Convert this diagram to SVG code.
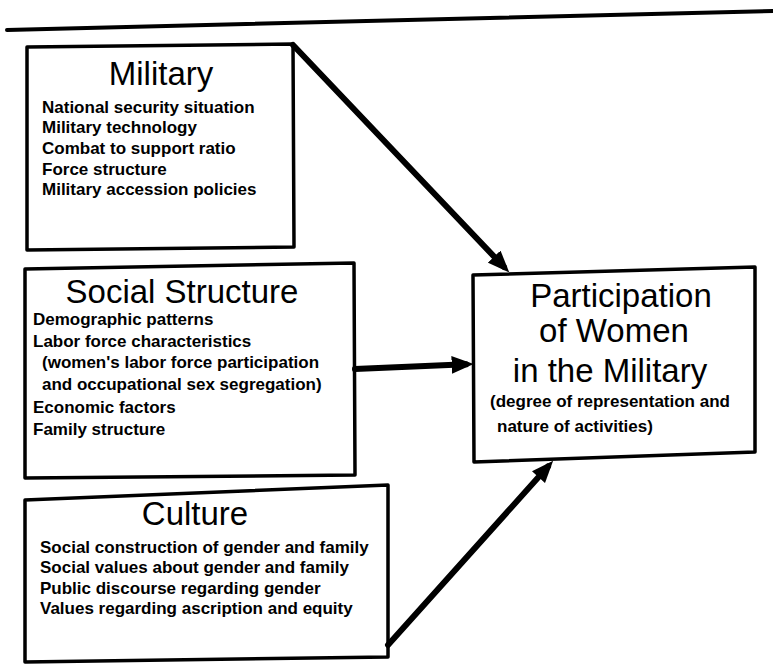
<svg xmlns="http://www.w3.org/2000/svg" width="773" height="671" viewBox="0 0 773 671">
<defs>
<style>
.box{fill:#fff;stroke:#000;stroke-width:3.5;stroke-linejoin:round}
.title{font-family:"Liberation Sans",Arial,sans-serif;font-size:33px;fill:#000}
.item{font-family:"Liberation Sans",Arial,sans-serif;font-size:17px;font-weight:bold;fill:#000}
.conn{stroke:#000;stroke-width:6;fill:none;stroke-linecap:round}
</style>
<marker id="ah" markerUnits="userSpaceOnUse" markerWidth="22" markerHeight="18" viewBox="0 0 20 16" refX="13" refY="8" orient="auto">
<path d="M0,0 L20,8 L0,16 z" fill="#000"/>
</marker>
</defs>
<rect width="773" height="671" fill="#fff"/>
<line x1="7" y1="30" x2="773" y2="11" stroke="#000" stroke-width="4" stroke-linecap="round"/>

<g id="military">
<polygon class="box" points="27,47 293,44 294,247 27,250"/>
<text class="title" x="161" y="85" text-anchor="middle">Military</text>
<text class="item" x="42" y="113">National security situation</text>
<text class="item" x="42" y="133">Military technology</text>
<text class="item" x="42" y="154">Combat to support ratio</text>
<text class="item" x="42" y="175">Force structure</text>
<text class="item" x="42" y="195">Military accession policies</text>
</g>

<g id="social">
<polygon class="box" points="25,269 354,263 355,475 25,478"/>
<text class="title" x="182" y="303" text-anchor="middle">Social Structure</text>
<text class="item" x="33" y="325">Demographic patterns</text>
<text class="item" x="33" y="347">Labor force characteristics</text>
<text class="item" x="42" y="368">(women's labor force participation</text>
<text class="item" x="42" y="390">and occupational sex segregation)</text>
<text class="item" x="33" y="413">Economic factors</text>
<text class="item" x="33" y="435">Family structure</text>
</g>

<g id="culture">
<polygon class="box" points="25,500 388,485 388,657 25,662"/>
<text class="title" x="195" y="525" text-anchor="middle">Culture</text>
<text class="item" x="40" y="553">Social construction of gender and family</text>
<text class="item" x="40" y="573">Social values about gender and family</text>
<text class="item" x="40" y="594">Public discourse regarding gender</text>
<text class="item" x="40" y="614">Values regarding ascription and equity</text>
</g>

<g id="participation">
<polygon class="box" points="473,275 755,267 755,452 474,462"/>
<text class="title" x="621" y="307" text-anchor="middle">Participation</text>
<text class="title" x="614" y="342" text-anchor="middle">of Women</text>
<text class="title" x="610" y="382" text-anchor="middle">in the Military</text>
<text class="item" x="490" y="407" font-size="16.5">(degree of representation and</text>
<text class="item" x="497" y="432" font-size="16.5">nature of activities)</text>
</g>

<g id="connectors">
<line class="conn" x1="293" y1="45" x2="504" y2="267" marker-end="url(#ah)"/>
<line class="conn" x1="355" y1="369" x2="466" y2="364.3" marker-end="url(#ah)"/>
<line class="conn" x1="388" y1="645" x2="548" y2="466.5" marker-end="url(#ah)"/>
</g>
</svg>
